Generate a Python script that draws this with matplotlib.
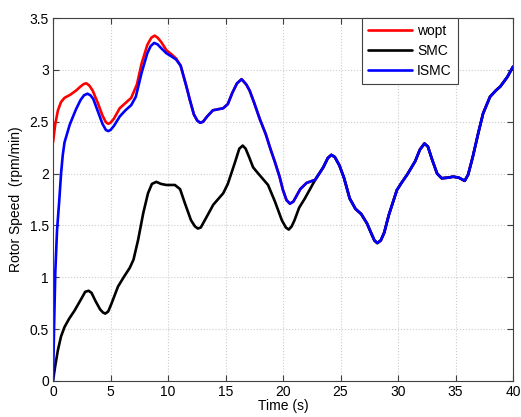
import numpy as np
import matplotlib
matplotlib.use("Agg")
import matplotlib.pyplot as plt

# ISMC (blue)
ismc_t = [0, 0.1, 0.2, 0.35, 0.55, 0.7, 0.85, 1.0, 1.45, 2.0, 2.4, 2.7, 3.0, 3.25, 3.5, 3.9, 4.3, 4.6, 4.8, 5.0, 5.3,
          5.8, 6.3, 6.8, 7.2, 7.7, 8.2, 8.5, 8.8, 9.1, 9.4, 9.86, 10.3, 10.7, 11.1, 11.6, 11.9, 12.25,
          12.55, 12.8, 13.05, 13.4, 13.9, 14.8, 15.2, 15.6, 16.0, 16.4, 16.8, 17.1, 17.5, 18.0, 18.5, 18.9, 19.3, 19.7,
          20.0, 20.3, 20.6, 20.9, 21.2, 21.5, 22.05, 22.8, 23.5, 23.9, 24.2, 24.5, 24.9, 25.3, 25.8, 26.3, 26.8, 27.3,
          27.65, 27.95, 28.2, 28.5, 28.8, 29.2, 29.9, 30.3, 30.8, 31.5, 31.9, 32.3, 32.6, 32.95, 33.4, 33.8, 34.3, 34.8,
          35.3, 35.8, 36.1, 36.5, 37.0, 37.4, 38.0, 38.5, 38.9, 39.5, 40.0]
ismc_v = [0.0, 0.55, 1.05, 1.45, 1.75, 2.0, 2.18, 2.30, 2.47, 2.62, 2.71, 2.755, 2.77, 2.755, 2.72, 2.60, 2.48, 2.42, 2.41, 2.42, 2.46,
          2.55, 2.61, 2.66, 2.74, 2.97, 3.16, 3.23, 3.26, 3.245, 3.21, 3.16, 3.13, 3.10, 3.04, 2.84, 2.71, 2.57,
          2.51, 2.49, 2.50, 2.55, 2.61, 2.63, 2.67, 2.78, 2.87, 2.91, 2.86, 2.80, 2.68, 2.52, 2.38, 2.24, 2.11, 1.97,
          1.84, 1.745, 1.71, 1.73, 1.79, 1.85, 1.91, 1.94, 2.06, 2.15, 2.18, 2.16, 2.08, 1.96, 1.76, 1.66, 1.61, 1.52,
          1.43, 1.355, 1.33, 1.355, 1.43, 1.60, 1.84, 1.91, 1.99, 2.12, 2.23, 2.29, 2.26, 2.14, 2.00, 1.955, 1.96, 1.97,
          1.96, 1.93, 1.99, 2.16, 2.40, 2.58, 2.74, 2.80, 2.84, 2.93, 3.03]

# wopt (red) – first part, after that it follows ISMC
wopt_t = [0, 0.2, 0.43, 0.7, 1.0, 1.5, 2.0, 2.4, 2.7, 2.9, 3.15, 3.45, 3.9, 4.3, 4.6, 4.8, 5.0, 5.3, 5.8, 6.3, 6.8,
          7.3, 7.7, 8.2, 8.55, 8.84, 9.1, 9.4, 9.86, 10.3, 10.7]
wopt_v = [2.30, 2.48, 2.61, 2.69, 2.73, 2.76, 2.80, 2.84, 2.865, 2.87, 2.85, 2.80, 2.68, 2.56, 2.495, 2.48, 2.49, 2.53, 2.63, 2.68, 2.73,
          2.86, 3.06, 3.24, 3.31, 3.33, 3.31, 3.27, 3.19, 3.15, 3.11]

# SMC (black) – first part, after that it follows ISMC
smc_t = [0, 0.2, 0.43, 0.7, 1.0, 1.4, 1.88, 2.5, 2.8, 3.1, 3.35, 3.7, 4.1, 4.35, 4.55, 4.8, 5.1, 5.65, 6.2, 6.67, 7.0,
         7.4, 7.85, 8.26, 8.6, 8.98, 9.4, 9.86, 10.6, 11.05, 11.45, 12.0, 12.35, 12.6, 12.85, 13.2, 13.94,
         14.8, 15.2, 15.8, 16.2, 16.5, 16.75, 17.05, 17.4, 17.85, 18.7, 19.3, 19.9, 20.25, 20.5, 20.75, 21.0, 21.4, 21.9,
         22.3]
smc_v = [0.0, 0.15, 0.30, 0.43, 0.52, 0.60, 0.68, 0.80, 0.86, 0.87, 0.85, 0.77, 0.69, 0.66, 0.65, 0.67, 0.75, 0.91, 1.01, 1.09, 1.17,
         1.36, 1.62, 1.81, 1.90, 1.92, 1.90, 1.89, 1.89, 1.85, 1.72, 1.55, 1.49, 1.47, 1.48, 1.55, 1.70,
         1.81, 1.90, 2.10, 2.24, 2.27, 2.24, 2.16, 2.06, 2.00, 1.89, 1.73, 1.55, 1.48, 1.46, 1.49, 1.55, 1.67, 1.76,
         1.84]

xticks = [0, 5, 10, 15, 20, 25, 30, 35, 40]
yticks = [0, 0.5, 1, 1.5, 2, 2.5, 3, 3.5]

it = np.array(ismc_t); iv = np.array(ismc_v)
wt = np.concatenate([wopt_t, it[it > max(wopt_t)]])
wv = np.concatenate([wopt_v, iv[it > max(wopt_t)]])
st = np.concatenate([smc_t, it[it > max(smc_t)]])
sv = np.concatenate([smc_v, iv[it > max(smc_t)]])

plt.rcParams['font.family'] = ['Liberation Sans', 'DejaVu Sans']
fig = plt.figure(figsize=(5.21, 4.17), dpi=100)
ax = fig.add_axes([53/521, 1-381/417, 460/521, 363/417])

kw = dict(lw=1.9, solid_joinstyle='round', solid_capstyle='round')
ax.plot(wt, wv, color='#ff0000', label='wopt', **kw)
ax.plot(st, sv, color='#000000', label='SMC', **kw)
ax.plot(it, iv, color='#0000ff', label='ISMC', **kw)

ax.set_xlim(0, 40)
ax.set_ylim(0, 3.5)
ax.set_xticks(xticks)
ax.set_xticklabels([str(x) for x in xticks])
ax.set_yticks(yticks)
ax.set_yticklabels(['0', '0.5', '1', '1.5', '2', '2.5', '3', '3.5'])
ax.grid(True, linestyle=':', color='#cccccc', lw=0.8)
ax.tick_params(direction='in', top=True, right=True, labelsize=10, length=4, color='#404040', pad=3)
for s in ax.spines.values():
    s.set_color('#404040')
    s.set_linewidth(0.8)
ax.set_xlabel('Time (s)', fontsize=10, labelpad=0)
ax.set_ylabel('Rotor Speed  (rpm/min)', fontsize=10, labelpad=5)

leg = ax.legend(loc='upper left', bbox_to_anchor=(0.671, 1.0), fancybox=False, framealpha=1,
                edgecolor='#404040', fontsize=10, handlelength=3.2, handletextpad=0.35,
                borderpad=0.45, labelspacing=0.42, borderaxespad=0)
leg.get_frame().set_linewidth(0.8)

fig.savefig('out.png', dpi=100)
